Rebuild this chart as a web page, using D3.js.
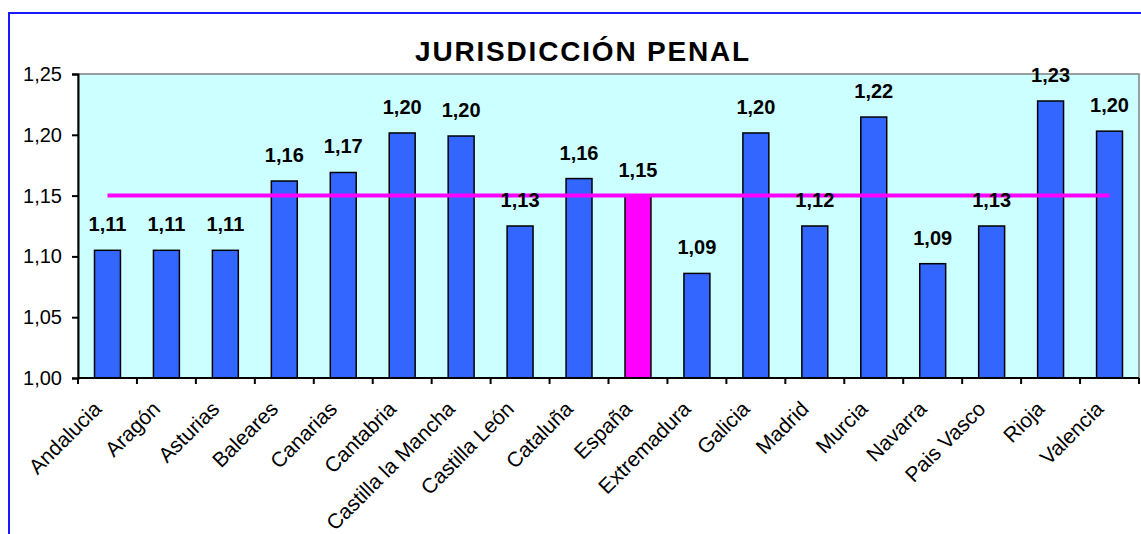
<!DOCTYPE html>
<html lang="es">
<head>
    <meta charset="UTF-8">
    <title>Jurisdicción Penal</title>
    <script src="https://d3js.org/d3.v7.min.js"></script>
    <style>
        body { margin: 0; background: #fff; }
        text { font-family: "Liberation Sans", Arial, sans-serif; fill: #000; }
        .title { font-size: 28px; font-weight: bold; letter-spacing: 1.8px; text-anchor: middle; }
        .value { font-size: 20px; font-weight: bold; text-anchor: middle; }
        .axis text { font-size: 20px; }
        .axis .cat { font-size: 21px; }
        .axis path, .axis line { stroke: #000; stroke-width: 2; }
    </style>
</head>
<body>
<div id="chart"></div>
<script>
    const regions = ["Andalucia", "Aragón", "Asturias", "Baleares", "Canarias", "Cantabria",
        "Castilla la Mancha", "Castilla León", "Cataluña", "España", "Extremadura", "Galicia",
        "Madrid", "Murcia", "Navarra", "Pais Vasco", "Rioja", "Valencia"];
    const values = [1.105, 1.105, 1.105, 1.162, 1.169, 1.2015, 1.199, 1.125, 1.164, 1.15,
        1.086, 1.2015, 1.125, 1.2146, 1.094, 1.125, 1.2278, 1.203];
    const valueLabels = ["1,11", "1,11", "1,11", "1,16", "1,17", "1,20", "1,20", "1,13", "1,16", "1,15",
        "1,09", "1,20", "1,12", "1,22", "1,09", "1,13", "1,23", "1,20"];
    const spainValue = 1.15;
    const yTicks = [1.00, 1.05, 1.10, 1.15, 1.20, 1.25];

    const width = 1141, height = 534;
    const plot = { left: 78, top: 74, right: 1139, bottom: 378 };

    const svg = d3.select("#chart").append("svg")
        .attr("width", width).attr("height", height);

    // outer frame
    svg.append("rect")
        .attr("x", 9).attr("y", 13).attr("width", 1150).attr("height", 560)
        .attr("fill", "#fff").attr("stroke", "#1a1aff").attr("stroke-width", 2);

    svg.append("text").attr("class", "title")
        .attr("x", 583).attr("y", 61)
        .text("JURISDICCIÓN PENAL");

    const x = d3.scaleBand().domain(regions).range([plot.left, plot.right]);
    const y = d3.scaleLinear().domain([1, 1.25]).range([plot.bottom, plot.top]);

    // plot area
    svg.append("rect")
        .attr("x", plot.left).attr("y", plot.top)
        .attr("width", plot.right - plot.left).attr("height", plot.bottom - plot.top)
        .attr("fill", "#ccffff").attr("stroke", "#808080").attr("stroke-width", 1.5);

    const barW = x.bandwidth() * 0.44;
    svg.selectAll(".bar").data(regions).enter().append("rect")
        .attr("class", "bar")
        .attr("x", d => x(d) + x.bandwidth() / 2 - barW / 2)
        .attr("y", (d, i) => y(values[i]))
        .attr("width", barW)
        .attr("height", (d, i) => y(1) - y(values[i]))
        .attr("fill", d => d === "España" ? "#ff00ff" : "#3366ff")
        .attr("stroke", "#000").attr("stroke-width", 1.5);

    // national average line
    svg.append("line")
        .attr("x1", x(regions[0]) + x.bandwidth() / 2)
        .attr("x2", x(regions[regions.length - 1]) + x.bandwidth() / 2)
        .attr("y1", y(spainValue)).attr("y2", y(spainValue))
        .attr("stroke", "#ff00ff").attr("stroke-width", 4);

    svg.selectAll(".value").data(regions).enter().append("text")
        .attr("class", "value")
        .attr("x", d => x(d) + x.bandwidth() / 2)
        .attr("y", (d, i) => y(values[i]) - 19)
        .text((d, i) => valueLabels[i]);

    // y axis
    svg.append("g").attr("class", "axis")
        .attr("transform", "translate(" + plot.left + ",0)")
        .call(d3.axisLeft(y).tickValues(yTicks).tickSize(6).tickPadding(10)
            .tickFormat(d => d3.format(".2f")(d).replace(".", ",")));

    // x axis: ticks on band boundaries
    const xAxis = svg.append("g").attr("class", "axis")
        .attr("transform", "translate(0," + plot.bottom + ")");
    xAxis.append("line")
        .attr("x1", plot.left).attr("x2", plot.right);
    xAxis.selectAll(".tick").data(regions.concat([null])).enter().append("line")
        .attr("x1", (d, i) => plot.left + i * x.step())
        .attr("x2", (d, i) => plot.left + i * x.step())
        .attr("y1", 0).attr("y2", 6);
    xAxis.selectAll(".cat").data(regions).enter().append("text")
        .attr("class", "cat")
        .attr("text-anchor", "end")
        .attr("transform", d => "translate(" + (x(d) + x.bandwidth() / 2 - 10) + ",27) rotate(-45)")
        .attr("dy", "0.35em")
        .text(d => d);
</script>
</body>
</html>
